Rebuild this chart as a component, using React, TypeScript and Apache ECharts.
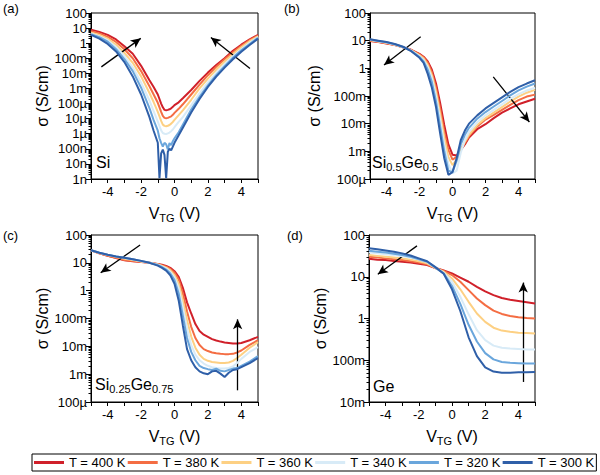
import React, { useEffect, useRef } from 'react';
import * as echarts from 'echarts';

const FONT = 'Liberation Sans, Arial, Helvetica, sans-serif';

const TEMPS = ['T = 400 K', 'T = 380 K', 'T = 360 K', 'T = 340 K', 'T = 320 K', 'T = 300 K'];
const COLORS = ['#d0202a', '#f46d43', '#fdd083', '#d8ebf7', '#6aa6dc', '#2f5fa8'];

// tick labels indexed by (2 - decade exponent)
const Y_LABELS = ['100', '10', '1', '100m', '10m', '1m', '100µ', '10µ', '1µ', '100n', '10n', '1n'];

// ---------- panel (a) Si : log10(sigma) ----------
const V_A = [-5, -4.5, -4, -3.5, -3, -2.5, -2, -1.5, -1.25, -1, -0.9, -0.8, -0.7, -0.6, -0.5, -0.4, -0.3, -0.2, -0.1, 0, 0.25, 0.5, 1, 1.5, 2, 2.5, 3, 3.5, 4, 4.5, 5];
const A_400 = [0.9, 0.75, 0.55, 0.25, -0.2, -0.7, -1.5, -2.45, -2.9, -3.4, -3.7, -4.0, -4.25, -4.42, -4.45, -4.42, -4.38, -4.32, -4.22, -4.1, -3.92, -3.65, -3.1, -2.5, -1.95, -1.45, -1.0, -0.5, -0.1, 0.25, 0.55];
const A_380 = [0.8, 0.65, 0.42, 0.08, -0.4, -1.0, -1.85, -2.85, -3.4, -3.95, -4.25, -4.55, -4.82, -4.95, -4.97, -4.95, -4.9, -4.85, -4.75, -4.62, -4.35, -4.05, -3.4, -2.75, -2.12, -1.57, -1.07, -0.6, -0.17, 0.2, 0.5];
const A_360 = [0.7, 0.55, 0.3, -0.1, -0.65, -1.3, -2.2, -3.3, -3.9, -4.55, -4.85, -5.15, -5.4, -5.48, -5.5, -5.47, -5.42, -5.33, -5.22, -5.08, -4.77, -4.45, -3.75, -3.0, -2.35, -1.75, -1.22, -0.72, -0.27, 0.13, 0.45];
const A_340 = [0.65, 0.45, 0.2, -0.25, -0.85, -1.6, -2.6, -3.8, -4.5, -5.2, -5.5, -5.78, -5.95, -6.0, -6.02, -5.98, -5.92, -5.83, -5.72, -5.57, -5.22, -4.9, -4.12, -3.32, -2.6, -1.97, -1.4, -0.87, -0.4, 0.02, 0.4];
const A_320 = [0.6, 0.4, 0.1, -0.4, -1.05, -1.85, -2.95, -4.3, -5.1, -5.8, -6.3, -6.6, -6.85, -6.6, -6.7, -7.05, -6.62, -6.75, -6.5, -6.3, -5.9, -5.4, -4.4, -3.55, -2.8, -2.12, -1.52, -0.97, -0.47, -0.05, 0.35];
const A_300 = [0.55, 0.3, -0.05, -0.55, -1.25, -2.2, -3.4, -4.9, -5.8, -6.6, -8.95, -7.3, -7.05, -7.4, -8.95, -7.2, -7.0, -7.1, -6.85, -6.6, -6.1, -5.6, -4.6, -3.7, -2.9, -2.22, -1.62, -1.07, -0.57, -0.12, 0.3];

// ---------- panel (b) Si0.5Ge0.5 ----------
const V_B = [-5, -4.5, -4, -3.5, -3, -2.5, -2, -1.75, -1.5, -1.25, -1, -0.75, -0.5, -0.25, 0, 0.25, 0.5, 0.75, 1, 1.5, 2, 2.5, 3, 3.5, 4, 4.5, 5];
const B_400 = [0.99, 0.95, 0.9, 0.84, 0.76, 0.67, 0.52, 0.42, 0.25, -0.05, -0.55, -1.25, -2.05, -2.75, -3.12, -3.15, -2.95, -2.75, -2.5, -2.2, -2.02, -1.8, -1.6, -1.45, -1.3, -1.2, -1.1];
const B_380 = [1.0, 0.96, 0.91, 0.85, 0.76, 0.66, 0.5, 0.4, 0.2, -0.15, -0.7, -1.45, -2.3, -2.95, -3.3, -3.2, -2.95, -2.7, -2.45, -2.1, -1.85, -1.68, -1.5, -1.32, -1.15, -1.02, -0.95];
const B_360 = [1.02, 0.97, 0.92, 0.85, 0.76, 0.65, 0.47, 0.35, 0.12, -0.25, -0.85, -1.65, -2.5, -3.2, -3.5, -3.3, -2.95, -2.65, -2.4, -2.05, -1.8, -1.6, -1.4, -1.2, -1.02, -0.88, -0.78];
const B_340 = [1.03, 0.98, 0.93, 0.86, 0.77, 0.64, 0.44, 0.3, 0.05, -0.35, -1.0, -1.85, -2.75, -3.45, -3.8, -3.7, -3.05, -2.6, -2.3, -1.95, -1.7, -1.5, -1.3, -1.1, -0.93, -0.8, -0.7];
const B_320 = [1.04, 0.99, 0.94, 0.87, 0.77, 0.63, 0.41, 0.25, -0.05, -0.5, -1.2, -2.1, -3.0, -3.7, -3.75, -3.35, -2.75, -2.4, -2.15, -1.82, -1.58, -1.38, -1.18, -0.98, -0.8, -0.66, -0.55];
const B_300 = [1.05, 1.0, 0.95, 0.88, 0.78, 0.62, 0.38, 0.2, -0.2, -0.7, -1.4, -2.35, -3.25, -3.85, -3.75, -3.25, -2.6, -2.25, -2.0, -1.7, -1.45, -1.25, -1.05, -0.85, -0.68, -0.55, -0.43];

// ---------- panel (c) Si0.25Ge0.75 ----------
const V_C = [-5, -4.5, -4, -3.5, -3, -2.5, -2, -1.5, -1, -0.75, -0.5, -0.25, 0, 0.25, 0.5, 0.75, 1, 1.25, 1.5, 1.75, 2, 2.25, 2.5, 2.75, 3, 3.25, 3.5, 3.75, 4, 4.5, 5];
const C_400 = [1.45, 1.34, 1.25, 1.17, 1.09, 1.06, 1.03, 1.0, 0.96, 0.93, 0.89, 0.82, 0.7, 0.5, 0.1, -0.42, -0.82, -1.2, -1.45, -1.58, -1.66, -1.74, -1.79, -1.83, -1.86, -1.88, -1.9, -1.9, -1.88, -1.78, -1.66];
const C_380 = [1.45, 1.34, 1.25, 1.18, 1.1, 1.07, 1.04, 1.0, 0.95, 0.91, 0.86, 0.78, 0.64, 0.4, -0.1, -0.75, -1.3, -1.7, -1.95, -2.1, -2.17, -2.22, -2.25, -2.27, -2.28, -2.28, -2.27, -2.22, -2.15, -1.95, -1.78];
const C_360 = [1.45, 1.35, 1.28, 1.22, 1.15, 1.1, 1.05, 1.0, 0.94, 0.89, 0.83, 0.73, 0.56, 0.25, -0.35, -1.05, -1.65, -2.05, -2.3, -2.45, -2.52, -2.56, -2.58, -2.6, -2.6, -2.58, -2.52, -2.42, -2.3, -2.05, -1.85];
const C_340 = [1.45, 1.36, 1.29, 1.23, 1.17, 1.12, 1.06, 1.0, 0.93, 0.87, 0.8, 0.68, 0.48, 0.1, -0.6, -1.35, -1.95, -2.3, -2.5, -2.62, -2.7, -2.75, -2.78, -2.8, -2.8, -2.78, -2.72, -2.6, -2.45, -2.2, -2.03];
const C_320 = [1.45, 1.36, 1.29, 1.23, 1.18, 1.13, 1.07, 1.0, 0.92, 0.85, 0.76, 0.62, 0.38, -0.1, -0.9, -1.7, -2.2, -2.5, -2.7, -2.78, -2.82, -2.85, -2.8, -2.88, -2.9, -2.85, -2.8, -2.78, -2.7, -2.55, -2.35];
const C_300 = [1.45, 1.36, 1.29, 1.23, 1.18, 1.13, 1.07, 1.0, 0.9, 0.82, 0.72, 0.55, 0.25, -0.35, -1.25, -2.1, -2.5, -2.75, -2.9, -2.97, -3.0, -2.9, -2.88, -2.98, -3.1, -2.95, -2.85, -2.82, -2.75, -2.6, -2.42];

// ---------- panel (d) Ge ----------
const V_D = [-5, -4.5, -4, -3.5, -3, -2.5, -2, -1.5, -1, -0.5, 0, 0.5, 1, 1.5, 2, 2.5, 3, 3.5, 4, 4.5, 5];
const D_400 = [1.43, 1.41, 1.4, 1.38, 1.36, 1.34, 1.31, 1.28, 1.21, 1.15, 1.08, 0.98, 0.88, 0.76, 0.65, 0.56, 0.49, 0.45, 0.42, 0.39, 0.36];
const D_380 = [1.48, 1.46, 1.44, 1.42, 1.4, 1.37, 1.34, 1.3, 1.21, 1.14, 1.04, 0.88, 0.68, 0.48, 0.32, 0.19, 0.11, 0.06, 0.03, 0.01, 0.0];
const D_360 = [1.52, 1.5, 1.48, 1.46, 1.44, 1.41, 1.37, 1.32, 1.21, 1.12, 0.96, 0.7, 0.4, 0.12, -0.08, -0.22, -0.29, -0.32, -0.34, -0.35, -0.36];
const D_340 = [1.58, 1.56, 1.54, 1.52, 1.49, 1.46, 1.41, 1.35, 1.22, 1.1, 0.88, 0.52, 0.1, -0.28, -0.52, -0.65, -0.7, -0.72, -0.73, -0.74, -0.74];
const D_320 = [1.62, 1.6, 1.58, 1.55, 1.52, 1.48, 1.42, 1.36, 1.22, 1.08, 0.78, 0.35, -0.15, -0.55, -0.83, -0.98, -1.04, -1.06, -1.07, -1.08, -1.08];
const D_300 = [1.68, 1.66, 1.63, 1.6, 1.56, 1.51, 1.44, 1.37, 1.23, 1.07, 0.7, 0.18, -0.45, -0.9, -1.17, -1.27, -1.3, -1.3, -1.29, -1.29, -1.28];

// arrows: [[V, log10 sigma] tail, [V, log10 sigma] head]
const ARROWS_A = [[[-4.38, -1.57], [-2.02, 0.32]], [[4.52, -1.68], [2.18, 0.38]]];
const ARROWS_B = [[[-1.93, 1.14], [-4.15, 0.12]], [[2.47, -0.31], [4.66, -1.94]]];
const ARROWS_C = [[[-2.06, 1.64], [-4.42, 0.645]], [[3.78, -3.58], [3.78, -1.03]]];
const ARROWS_D = [[[-2.11, 1.74], [-4.47, 1.06]], [[4.29, -1.52], [4.29, 0.86]]];

const PANELS = [
  { v: V_A, ys: [A_400, A_380, A_360, A_340, A_320, A_300], lo: -9, hi: 2, arrows: ARROWS_A,
    grid: { left: 91, top: 13, width: 167, height: 166 }, nameGap: 33 },
  { v: V_B, ys: [B_400, B_380, B_360, B_340, B_320, B_300], lo: -4, hi: 2, arrows: ARROWS_B,
    grid: { left: 370, top: 13, width: 165, height: 166 }, nameGap: 48 },
  { v: V_C, ys: [C_400, C_380, C_360, C_340, C_320, C_300], lo: -4, hi: 2, arrows: ARROWS_C,
    grid: { left: 91, top: 235, width: 167, height: 167 }, nameGap: 34 },
  { v: V_D, ys: [D_400, D_380, D_360, D_340, D_320, D_300], lo: -2, hi: 2, arrows: ARROWS_D,
    grid: { left: 369, top: 235, width: 166, height: 167 }, nameGap: 30 },
];

function minorTickValues(lo: number, hi: number) {
  const out: number[] = [];
  for (let e = lo; e < hi; e++) for (let k = 2; k <= 9; k++) out.push(k * Math.pow(10, e));
  return out;
}

function buildOption() {
  const grids: any[] = [];
  const xAxes: any[] = [];
  const yAxes: any[] = [];
  const series: any[] = [];

  PANELS.forEach((p, pi) => {
    grids.push({ ...p.grid, show: true, borderColor: '#000', borderWidth: 1, backgroundColor: 'transparent' });
    xAxes.push({
      type: 'value', gridIndex: pi, min: -5, max: 5, interval: 1,
      axisLine: { show: true, onZero: false, lineStyle: { color: '#000', width: 1 } },
      axisTick: { show: true, length: 4, lineStyle: { color: '#000' } },
      axisLabel: { fontSize: 13, color: '#000', margin: 6, fontFamily: FONT,
        formatter: (v: number) => (Math.round(v) % 2 === 0 ? String(Math.round(v)) : '') },
      splitLine: { show: false },
      name: '{a|V}{b|TG}{a| (V)}', nameLocation: 'middle', nameGap: 24,
      nameTextStyle: { color: '#000', fontFamily: FONT, fontSize: 16,
        rich: { a: { fontSize: 16, fontFamily: FONT, color: '#000' },
                b: { fontSize: 11, fontFamily: FONT, color: '#000', padding: [9, 0, 0, 0] } } },
    });
    yAxes.push({
      type: 'log', logBase: 10, gridIndex: pi, min: Math.pow(10, p.lo), max: Math.pow(10, p.hi), interval: 1,
      axisLine: { show: true, onZero: false, lineStyle: { color: '#000', width: 1 } },
      axisTick: { show: true, length: 5, lineStyle: { color: '#000' } },
      axisLabel: { fontSize: 13, color: '#000', margin: 4, fontFamily: FONT,
        formatter: (v: number) => Y_LABELS[2 - Math.round(Math.log10(v))] || '' },
      splitLine: { show: false },
      name: 'σ (S/cm)', nameLocation: 'middle', nameGap: p.nameGap,
      nameTextStyle: { color: '#000', fontFamily: FONT, fontSize: 16 },
    });
    yAxes.push({
      type: 'log', logBase: 10, gridIndex: pi, min: Math.pow(10, p.lo), max: Math.pow(10, p.hi), position: 'left',
      axisLine: { show: false, onZero: false }, axisLabel: { show: false }, splitLine: { show: false },
      axisTick: { show: true, length: 2.5, lineStyle: { color: '#000' }, customValues: minorTickValues(p.lo, p.hi) },
    });
    p.ys.forEach((ys, si) => {
      const s: any = {
        type: 'line', name: TEMPS[si], xAxisIndex: pi, yAxisIndex: pi * 2,
        data: p.v.map((v, i) => [v, Math.pow(10, ys[i])]),
        showSymbol: false, symbol: 'none', color: COLORS[si],
        lineStyle: { width: 2, color: COLORS[si] }, z: 2 + si, silent: true,
      };
      if (si === 5) {
        s.markLine = {
          silent: true, symbol: ['none', 'arrow'], symbolSize: [7, 10], label: { show: false },
          lineStyle: { color: '#000', width: 1.3, type: 'solid' },
          data: p.arrows.map(([a, b]) => [
            { coord: [a[0], Math.pow(10, a[1])] },
            { coord: [b[0], Math.pow(10, b[1])] },
          ]),
        };
      }
      series.push(s);
    });
  });

  const sub = { fontSize: 11, fontFamily: FONT, fill: '#000', padding: [9, 0, 0, 0] };
  const main = { fontSize: 16, fontFamily: FONT, fill: '#000' };
  const graphic = [
    { type: 'text', x: 3, y: 2, style: { text: '(a)', fontSize: 13, fontFamily: FONT, fill: '#000' } },
    { type: 'text', x: 284, y: 2, style: { text: '(b)', fontSize: 13, fontFamily: FONT, fill: '#000' } },
    { type: 'text', x: 3, y: 229, style: { text: '(c)', fontSize: 13, fontFamily: FONT, fill: '#000' } },
    { type: 'text', x: 287, y: 229, style: { text: '(d)', fontSize: 13, fontFamily: FONT, fill: '#000' } },
    { type: 'text', x: 96, y: 154, z: 10, style: { text: 'Si', fontSize: 16, fontFamily: FONT, fill: '#000' } },
    { type: 'text', x: 372, y: 152, z: 10, style: { text: '{m|Si}{s|0.5}{m|Ge}{s|0.5}', rich: { m: main, s: sub } } },
    { type: 'text', x: 95, y: 374, z: 10, style: { text: '{m|Si}{s|0.25}{m|Ge}{s|0.75}', rich: { m: main, s: sub } } },
    { type: 'text', x: 373, y: 378, z: 10, style: { text: 'Ge', fontSize: 16, fontFamily: FONT, fill: '#000' } },
  ];

  return {
    animation: false,
    backgroundColor: '#fff',
    textStyle: { fontFamily: FONT },
    grid: grids,
    xAxis: xAxes,
    yAxis: yAxes,
    series,
    graphic,
    legend: {
      show: true, data: TEMPS, left: 32, top: 454, orient: 'horizontal',
      padding: [2, 2], itemGap: 2, itemWidth: 30, itemHeight: 3, icon: 'rect',
      borderColor: '#000', borderWidth: 1, selectedMode: false,
      textStyle: { fontSize: 13, color: '#000', fontFamily: FONT },
    },
  };
}

export default function App() {
  const ref = useRef<HTMLDivElement>(null);
  useEffect(() => {
    if (!ref.current) return;
    const chart = echarts.init(ref.current, null, { renderer: 'svg' });
    chart.setOption(buildOption() as any);
    return () => chart.dispose();
  }, []);
  return (
    <div
      ref={ref}
      style={{ position: 'absolute', left: 0, top: 0, width: 600, height: 475, background: '#fff' }}
    />
  );
}
